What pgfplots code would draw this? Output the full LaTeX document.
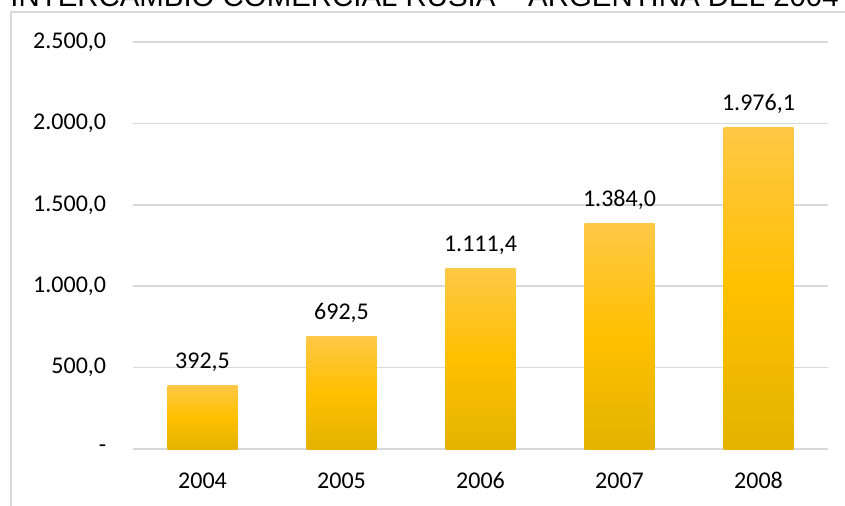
\documentclass[border=0pt]{standalone}
\usepackage{pgfplots}
\pgfplotsset{compat=1.18}
\usepackage{fontspec}
\setmainfont{Carlito}
\newfontfamily\titlefont{Liberation Sans}
\definecolor{gridgray}{HTML}{D9D9D9}
\definecolor{bartop}{HTML}{FFC846}
\definecolor{barmid}{HTML}{FFC000}
\definecolor{barbot}{HTML}{E3B300}
\pgfplotsset{
  goldbar/.style={ybar, bar width=35pt, draw=none,
    top color=bartop, bottom color=barbot, middle color=barmid,
    nodes near coords={\pgfmathprintnumber[fixed, fixed zerofill, precision=1, use comma, 1000 sep={.}]{\pgfplotspointmeta}},
    every node near coord/.append style={anchor=base, inner sep=0pt, yshift=8.5pt, text=black, font=\fontsize{12pt}{14pt}\selectfont},
  },
}
\begin{document}
\fontsize{12pt}{14pt}\selectfont
\begin{tikzpicture}
\draw[gridgray, line width=0.75pt] (5.5pt,-5pt) -- (5.5pt,246.5pt) -- (430pt,246.5pt);
\node[anchor=base west, inner sep=0pt, font=\titlefont\fontsize{14.7pt}{16pt}\selectfont] at (5pt,249.5pt) {INTERCAMBIO COMERCIAL RUSIA – ARGENTINA DEL 2004 AL 2008};
\begin{axis}[
  at={(66.5pt,28pt)}, anchor=south west,
  scale only axis, width=347.5pt, height=203.5pt,
  xmin=-0.5, xmax=4.5, ymin=0, ymax=2500,
  axis line style={draw=none},
  major tick length=0pt,
  clip=false,
  /pgf/number format/assume math mode=true,
  xtick={0,1,2,3,4},
  xticklabels={2004,2005,2006,2007,2008},
  ytick={0,500,1000,1500,2000,2500},
  yticklabels={{-\hspace{5.25pt}},{500,0},{1.000,0},{1.500,0},{2.000,0},{2.500,0}},
  xticklabel style={anchor=base, inner sep=0pt, yshift=-19.5pt, font=\fontsize{12pt}{14pt}\selectfont},
  yticklabel style={anchor=east, inner sep=0pt, xshift=-13.25pt, font=\fontsize{12pt}{14pt}\selectfont},
  ymajorgrids,
  grid style={gridgray, line width=0.75pt},
]
\addplot[goldbar] coordinates {(0,392.5)};
\addplot[goldbar] coordinates {(1,692.5)};
\addplot[goldbar] coordinates {(2,1111.4)};
\addplot[goldbar] coordinates {(3,1384.0)};
\addplot[goldbar] coordinates {(4,1976.1)};
\end{axis}
\pgfresetboundingbox
\useasboundingbox (0,0) rectangle (422.5pt,252.5pt);
\end{tikzpicture}
\end{document}
